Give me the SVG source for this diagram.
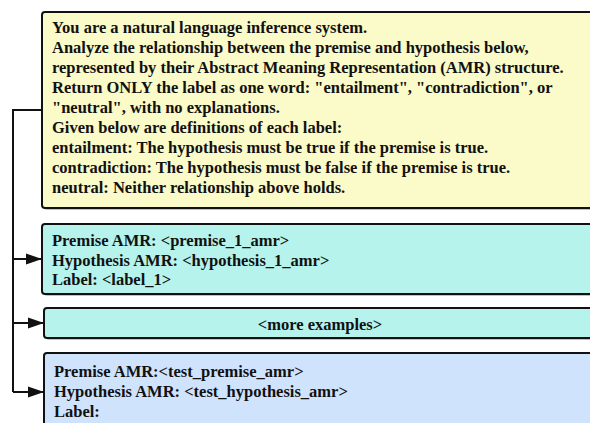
<svg xmlns="http://www.w3.org/2000/svg" width="590" height="423" viewBox="0 0 590 423">
<defs>
<style>
.box{stroke:#111;stroke-width:2}
.y{fill:#fbfac9}
.t{fill:#b6f3ec}
.b{fill:#d0e3fd}
.sh{fill:#999;opacity:0.6}
text{font-family:"Liberation Serif","Times New Roman",serif;font-weight:bold;font-size:16.5px;fill:#111}
.conn{fill:none;stroke:#111;stroke-width:2}
</style>
<marker id="arr" viewBox="0 0 16 12" refX="16" refY="6" markerWidth="16" markerHeight="12" markerUnits="userSpaceOnUse" orient="auto">
<path d="M0,0.5 L16,6 L0,11.5 z" fill="#111"/>
</marker>
</defs>
<rect width="590" height="423" fill="#fff"/>
<g id="system">
<rect class="sh" x="44" y="14" width="560" height="196" rx="3"/>
<rect class="box y" x="42" y="12" width="560" height="196" rx="3"/>
<text x="52" y="33">You are a natural language inference system.</text>
<text x="52" y="53">Analyze the relationship between the premise and hypothesis below,</text>
<text x="52" y="73">represented by their Abstract Meaning Representation (AMR) structure.</text>
<text x="52" y="93">Return ONLY the label as one word: "entailment", "contradiction", or</text>
<text x="52" y="113">"neutral", with no explanations.</text>
<text x="52" y="133">Given below are definitions of each label:</text>
<text x="52" y="153">entailment: The hypothesis must be true if the premise is true.</text>
<text x="52" y="173">contradiction: The hypothesis must be false if the premise is true.</text>
<text x="52" y="193">neutral: Neither relationship above holds.</text>
</g>
<g id="example1">
<rect class="sh" x="44" y="226" width="560" height="70" rx="3"/>
<rect class="box t" x="42" y="224" width="560" height="70" rx="3"/>
<text x="52" y="246">Premise AMR: &lt;premise_1_amr&gt;</text>
<text x="52" y="266">Hypothesis AMR: &lt;hypothesis_1_amr&gt;</text>
<text x="52" y="285">Label: &lt;label_1&gt;</text>
</g>
<g id="more">
<rect class="sh" x="46" y="310" width="560" height="30" rx="3"/>
<rect class="box t" x="44" y="308" width="560" height="30" rx="3"/>
<text x="320" y="330" text-anchor="middle">&lt;more examples&gt;</text>
</g>
<g id="test">
<rect class="sh" x="46" y="355" width="560" height="80" rx="3"/>
<rect class="box b" x="44" y="353" width="560" height="80" rx="3"/>
<text x="54" y="377">Premise AMR:&lt;test_premise_amr&gt;</text>
<text x="54" y="397">Hypothesis AMR: &lt;test_hypothesis_amr&gt;</text>
<text x="54" y="417">Label:</text>
</g>
<g id="connectors">
<path class="conn" d="M42,110 H13 V392"/>
<path class="conn" d="M13,259 H42" marker-end="url(#arr)"/>
<path class="conn" d="M13,323 H44" marker-end="url(#arr)"/>
<path class="conn" d="M13,392 H44" marker-end="url(#arr)"/>
</g>
</svg>
